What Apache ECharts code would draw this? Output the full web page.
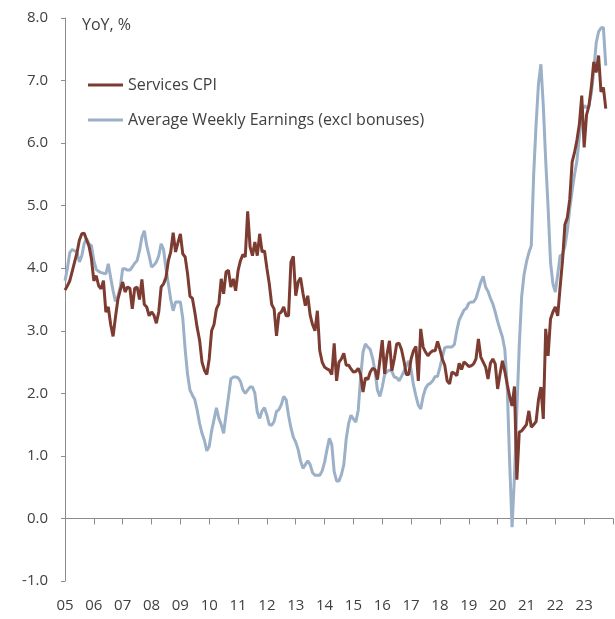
<!DOCTYPE html>
<html>
<head>
<meta charset="utf-8">
<script src="https://cdn.jsdelivr.net/npm/echarts@6/dist/echarts.min.js"></script>
<style>
  html, body { margin: 0; padding: 0; background: #fff; }
  #main { width: 615px; height: 619px; }
</style>
</head>
<body>
<div id="main"></div>
<script>
// monthly data, Jan 2005 .. Oct 2023 (axis runs to Jan 2024)
var firstYear = 2005;
var lastYear = 2024;

var servicesCpi = [
  // 2005
  3.65, 3.72, 3.8, 3.95, 4.1, 4.25, 4.45, 4.55, 4.56, 4.45, 4.35, 4.15,
  // 2006
  3.8, 3.88, 3.72, 3.67, 3.8, 3.3, 3.38, 3.1, 2.91, 3.22, 3.5, 3.65,
  // 2007
  3.78, 3.62, 3.7, 3.68, 3.35, 3.68, 3.7, 3.5, 3.82, 3.42, 3.38, 3.24,
  // 2008
  3.3, 3.25, 3.12, 3.3, 3.7, 3.75, 3.85, 4.12, 4.26, 4.57, 4.26, 4.41,
  // 2009
  4.55, 4.23, 4.18, 3.91, 3.55, 3.52, 3.3, 3.05, 2.85, 2.5, 2.37, 2.3,
  // 2010
  2.55, 3.0, 3.1, 3.35, 3.43, 3.83, 3.59, 3.94, 3.97, 3.7, 3.83, 3.64,
  // 2011
  3.96, 4.12, 4.22, 4.18, 4.91, 4.34, 4.2, 4.42, 4.2, 4.55, 4.26, 4.28,
  // 2012
  4.0, 3.75, 3.42, 3.35, 2.92, 3.27, 3.3, 3.38, 3.24, 3.24, 4.1, 4.19,
  // 2013
  3.56, 3.78, 3.85, 3.6, 3.4, 3.56, 3.25, 3.1, 3.0, 3.32, 2.68, 2.5,
  // 2014
  2.42, 2.39, 2.37, 2.3, 2.8, 2.2, 2.5, 2.55, 2.64, 2.45, 2.45, 2.39,
  // 2015
  2.34, 2.35, 2.4, 2.3, 2.02, 2.25, 2.22, 2.34, 2.4, 2.38, 2.22, 2.52,
  // 2016
  2.85, 2.31, 2.63, 2.84, 2.36, 2.55, 2.79, 2.8, 2.7, 2.52, 2.3, 2.3,
  // 2017
  2.55, 2.68, 2.75, 2.2, 3.03, 2.74, 2.66, 2.6, 2.65, 2.68, 2.68, 2.83,
  // 2018
  2.7, 2.55, 2.45, 2.2, 2.15, 2.34, 2.32, 2.28, 2.48, 2.38, 2.5, 2.47,
  // 2019
  2.43, 2.44, 2.47, 2.55, 2.87, 2.58, 2.5, 2.42, 2.23, 2.48, 2.55, 2.47,
  // 2020
  2.07, 2.31, 2.52, 2.35, 2.14, 1.95, 1.8, 2.11, 0.62, 1.38, 1.4, 1.45,
  // 2021
  1.5, 1.72, 1.46, 1.5, 1.55, 1.9, 2.1, 1.59, 3.03, 2.6, 3.19, 3.3,
  // 2022
  3.38, 3.24, 3.7, 4.12, 4.7, 4.81, 5.1, 5.7, 5.85, 6.05, 6.3, 6.76,
  // 2023
  5.93, 6.45, 6.6, 6.9, 7.3, 7.13, 7.4, 6.82, 6.89, 6.55
];

var weeklyEarnings = [
  // 2005
  3.8, 4.0, 4.25, 4.3, 4.28, 4.25, 4.1, 4.2, 4.4, 4.47, 4.39, 4.36,
  // 2006
  4.12, 3.98, 3.95, 3.93, 3.92, 3.91, 4.07, 3.85, 3.64, 3.47, 3.55, 3.7,
  // 2007
  3.99, 3.99, 3.97, 3.97, 4.02, 4.08, 4.12, 4.28, 4.5, 4.6, 4.36, 4.2,
  // 2008
  4.02, 4.05, 4.1, 4.2, 4.39, 4.3, 4.0, 3.75, 3.5, 3.32, 3.46, 3.46,
  // 2009
  3.46, 3.2, 2.7, 2.3, 2.05, 1.97, 1.9, 1.73, 1.52, 1.36, 1.25, 1.08,
  // 2010
  1.15, 1.4, 1.58, 1.77, 1.6, 1.5, 1.36, 1.66, 1.94, 2.23, 2.26, 2.26,
  // 2011
  2.25, 2.19, 2.06, 2.0, 2.05, 2.1, 2.1, 2.0, 1.7, 1.6, 1.72, 1.77,
  // 2012
  1.65, 1.5, 1.49, 1.55, 1.71, 1.74, 1.82, 1.95, 1.9, 1.65, 1.45, 1.3,
  // 2013
  1.22, 1.1, 0.92, 0.8, 0.86, 0.92, 0.86, 0.73, 0.69, 0.69, 0.69, 0.76,
  // 2014
  0.9, 1.1, 1.28, 1.18, 0.75, 0.6, 0.6, 0.7, 0.86, 1.27, 1.52, 1.65,
  // 2015
  1.59, 1.54, 1.73, 2.26, 2.66, 2.79, 2.74, 2.7, 2.56, 2.35, 2.05, 1.95,
  // 2016
  2.1, 2.3, 2.35, 2.37, 2.35, 2.26, 2.25, 2.2, 2.27, 2.35, 2.44, 2.52,
  // 2017
  2.38, 2.13, 1.96, 1.81, 1.75, 1.95, 2.08, 2.14, 2.16, 2.2, 2.27, 2.27,
  // 2018
  2.42, 2.58, 2.73, 2.74, 2.74, 2.74, 2.78, 3.0, 3.17, 3.25, 3.33, 3.36,
  // 2019
  3.44, 3.46, 3.46, 3.52, 3.65, 3.78, 3.87, 3.7, 3.63, 3.52, 3.43, 3.3,
  // 2020
  3.15, 3.02, 2.9, 2.7, 2.1, 0.9, -0.14, 0.67, 1.73, 2.76, 3.55, 3.9,
  // 2021
  4.1, 4.25, 4.36, 5.5, 6.3, 6.95, 7.26, 6.6, 5.72, 4.97, 4.1, 3.75,
  // 2022
  3.62, 3.9, 4.2, 4.22, 4.35, 4.6, 4.95, 5.24, 5.5, 5.72, 6.1, 6.5,
  // 2023
  6.6, 6.57, 6.6, 6.8, 7.15, 7.6, 7.78, 7.84, 7.85, 7.24
];

var seriesNames = ['Services CPI', 'Average Weekly Earnings (excl bonuses)'];
var yTicks = [-1, 0, 1, 2, 3, 4, 5, 6, 7, 8];

// month categories
var months = [];
for (var y = firstYear; y <= lastYear; y++) {
  for (var m = 1; m <= 12; m++) {
    if (y === lastYear && m > 1) break;
    months.push(y + '-' + (m < 10 ? '0' + m : m));
  }
}
var lastIdx = months.length - 1;

var textColor = '#404040';
var axisColor = '#8c8c8c';
var font = '"Open Sans", "Noto Sans", sans-serif';

var myChart = echarts.init(document.getElementById('main'), null, { renderer: 'canvas' });

myChart.setOption({
  animation: false,
  backgroundColor: '#ffffff',
  textStyle: { fontFamily: font },
  title: {
    text: 'YoY, %',
    left: 82,
    top: 17,
    padding: 0,
    textStyle: { fontSize: 16, fontWeight: 'normal', color: textColor, fontFamily: font }
  },
  legend: {
    data: seriesNames,
    orient: 'vertical',
    left: 88,
    top: 77,
    padding: 0,
    itemGap: 19,
    itemWidth: 35,
    itemHeight: 3,
    icon: 'rect',
    textStyle: { fontSize: 16, color: textColor, fontFamily: font }
  },
  grid: { left: 65, right: 2, top: 18, bottom: 38, containLabel: false, outerBoundsMode: 'none' },
  xAxis: {
    type: 'category',
    data: months,
    boundaryGap: false,
    axisLine: { onZero: true, lineStyle: { color: axisColor, width: 1 } },
    axisTick: {
      length: 6,
      lineStyle: { color: axisColor },
      interval: function (i) { return i % 12 === 0 || i === lastIdx; }
    },
    axisLabel: {
      margin: 17,
      fontSize: 15,
      color: textColor,
      fontFamily: font,
      interval: function (i) { return i % 12 === 0 && i < lastIdx; },
      formatter: function (v) { return v.slice(2, 4); }
    },
    splitLine: { show: false }
  },
  yAxis: {
    type: 'value',
    min: yTicks[0],
    max: yTicks[yTicks.length - 1],
    interval: 1,
    axisLine: { show: true, lineStyle: { color: axisColor, width: 1 } },
    axisTick: { show: true, length: 4, lineStyle: { color: axisColor } },
    axisLabel: {
      margin: 17,
      fontSize: 15,
      color: textColor,
      fontFamily: font,
      formatter: function (v) { return v.toFixed(1); }
    },
    splitLine: { show: false }
  },
  series: [
    {
      name: seriesNames[0],
      type: 'line',
      data: servicesCpi,
      showSymbol: false,
      symbol: 'none',
      z: 3,
      lineStyle: { color: '#7d3c31', width: 3 },
      itemStyle: { color: '#7d3c31' }
    },
    {
      name: seriesNames[1],
      type: 'line',
      data: weeklyEarnings,
      showSymbol: false,
      symbol: 'none',
      z: 2,
      lineStyle: { color: '#9cb0c8', width: 3 },
      itemStyle: { color: '#9cb0c8' }
    }
  ]
});
</script>
</body>
</html>
